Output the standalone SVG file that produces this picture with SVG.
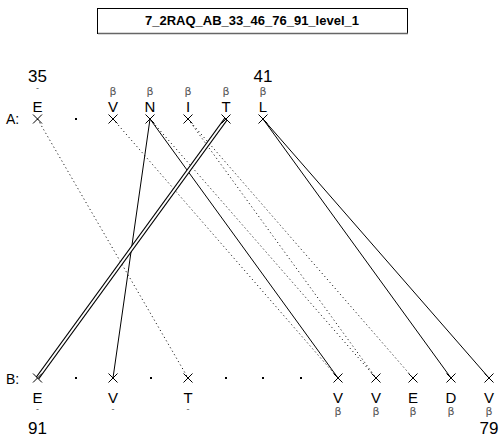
<svg xmlns="http://www.w3.org/2000/svg" width="503" height="438" viewBox="0 0 503 438">
<style>
text{font-family:"Liberation Sans",Arial,sans-serif;}
.res{font-size:15px;text-anchor:middle;fill:#000;}
.ss{font-size:11px;text-anchor:middle;fill:#555;font-family:"DejaVu Sans","Liberation Sans",sans-serif;}
.dash{font-size:9px;text-anchor:middle;fill:#555;}
.num{font-size:17px;text-anchor:middle;fill:#000;}
.lab{font-size:14px;fill:#000;}
.x{stroke:#000;stroke-width:1;fill:none;}
.solid{stroke:#000;stroke-width:1;fill:none;}
.dot{stroke:#222;stroke-width:1;stroke-dasharray:1.2 2.8;fill:none;}
.dbl-o{stroke:#000;stroke-width:4;fill:none;}
.dbl-i{stroke:#fff;stroke-width:2;fill:none;}
</style>
<defs>
<path id="cross" d="M-4.5,-4.5L4.5,4.5M-4.5,4.5L4.5,-4.5" class="x"/>
</defs>
<g id="title">
<rect x="97.5" y="8.5" width="310" height="25" fill="#fff" stroke="#000" stroke-width="1"/>
<line x1="98" y1="33.5" x2="408" y2="33.5" stroke="#666" stroke-width="1.5"/>
<text x="252" y="25" style="font-size:13px;font-weight:bold;text-anchor:middle">7_2RAQ_AB_33_46_76_91_level_1</text>
</g>
<g id="connectors">
<line class="dot" x1="37.5" y1="119" x2="188" y2="378"/>
<line class="dot" x1="113" y1="119" x2="338" y2="378"/>
<line class="solid" x1="150" y1="119" x2="113" y2="378"/>
<line class="solid" x1="150" y1="119" x2="338" y2="378"/>
<line class="dot" x1="150" y1="119" x2="376" y2="378"/>
<line class="dot" x1="188" y1="119" x2="376" y2="378"/>
<line class="dot" x1="188" y1="119" x2="413" y2="378"/>
<line class="dbl-o" x1="226" y1="119" x2="37.5" y2="378"/>
<line class="dbl-i" x1="226" y1="119" x2="37.5" y2="378"/>
<line class="solid" x1="263" y1="119" x2="451" y2="378"/>
<line class="solid" x1="263" y1="119" x2="489" y2="378"/>
</g>
<g id="rowA">
<text class="lab" x="6" y="124">A:</text>
<g id="A-E"><use href="#cross" x="37.5" y="119"/><text class="res" x="37.5" y="112">E</text><text class="dash" x="37.5" y="91">-</text><text class="num" x="37.5" y="82">35</text></g>
<g id="A-dot1"><rect x="75" y="118" width="2" height="2" fill="#000"/></g>
<g id="A-V"><use href="#cross" x="113" y="119"/><text class="res" x="113" y="112">V</text><text class="ss" x="113" y="95">β</text></g>
<g id="A-N"><use href="#cross" x="150" y="119"/><text class="res" x="150" y="112">N</text><text class="ss" x="150" y="95">β</text></g>
<g id="A-I"><use href="#cross" x="188" y="119"/><text class="res" x="188" y="112">I</text><text class="ss" x="188" y="95">β</text></g>
<g id="A-T"><use href="#cross" x="226" y="119"/><text class="res" x="226" y="112">T</text><text class="ss" x="226" y="95">β</text></g>
<g id="A-L"><use href="#cross" x="263" y="119"/><text class="res" x="263" y="112">L</text><text class="ss" x="263" y="95">β</text><text class="num" x="263" y="82">41</text></g>
</g>
<g id="rowB">
<text class="lab" x="6" y="384">B:</text>
<g id="B-E"><use href="#cross" x="37.5" y="378"/><text class="res" x="37.5" y="403">E</text><text class="dash" x="37.5" y="412">-</text><text class="num" x="37.5" y="434">91</text></g>
<g id="B-dot1"><rect x="75" y="377" width="2" height="2" fill="#000"/></g>
<g id="B-V1"><use href="#cross" x="113" y="378"/><text class="res" x="113" y="403">V</text><text class="dash" x="113" y="412">-</text></g>
<g id="B-dot2"><rect x="150" y="377" width="2" height="2" fill="#000"/></g>
<g id="B-T"><use href="#cross" x="188" y="378"/><text class="res" x="188" y="403">T</text><text class="dash" x="188" y="412">-</text></g>
<g id="B-dot3"><rect x="225" y="377" width="2" height="2" fill="#000"/></g>
<g id="B-dot4"><rect x="262" y="377" width="2" height="2" fill="#000"/></g>
<g id="B-dot5"><rect x="300" y="377" width="2" height="2" fill="#000"/></g>
<g id="B-V2"><use href="#cross" x="338" y="378"/><text class="res" x="338" y="403">V</text><text class="ss" x="338" y="415">β</text></g>
<g id="B-V3"><use href="#cross" x="376" y="378"/><text class="res" x="376" y="403">V</text><text class="ss" x="376" y="415">β</text></g>
<g id="B-E2"><use href="#cross" x="413" y="378"/><text class="res" x="413" y="403">E</text><text class="ss" x="413" y="415">β</text></g>
<g id="B-D"><use href="#cross" x="451" y="378"/><text class="res" x="451" y="403">D</text><text class="ss" x="451" y="415">β</text></g>
<g id="B-V4"><use href="#cross" x="489" y="378"/><text class="res" x="489" y="403">V</text><text class="ss" x="489" y="415">β</text><text class="num" x="489" y="434">79</text></g>
</g>
</svg>
